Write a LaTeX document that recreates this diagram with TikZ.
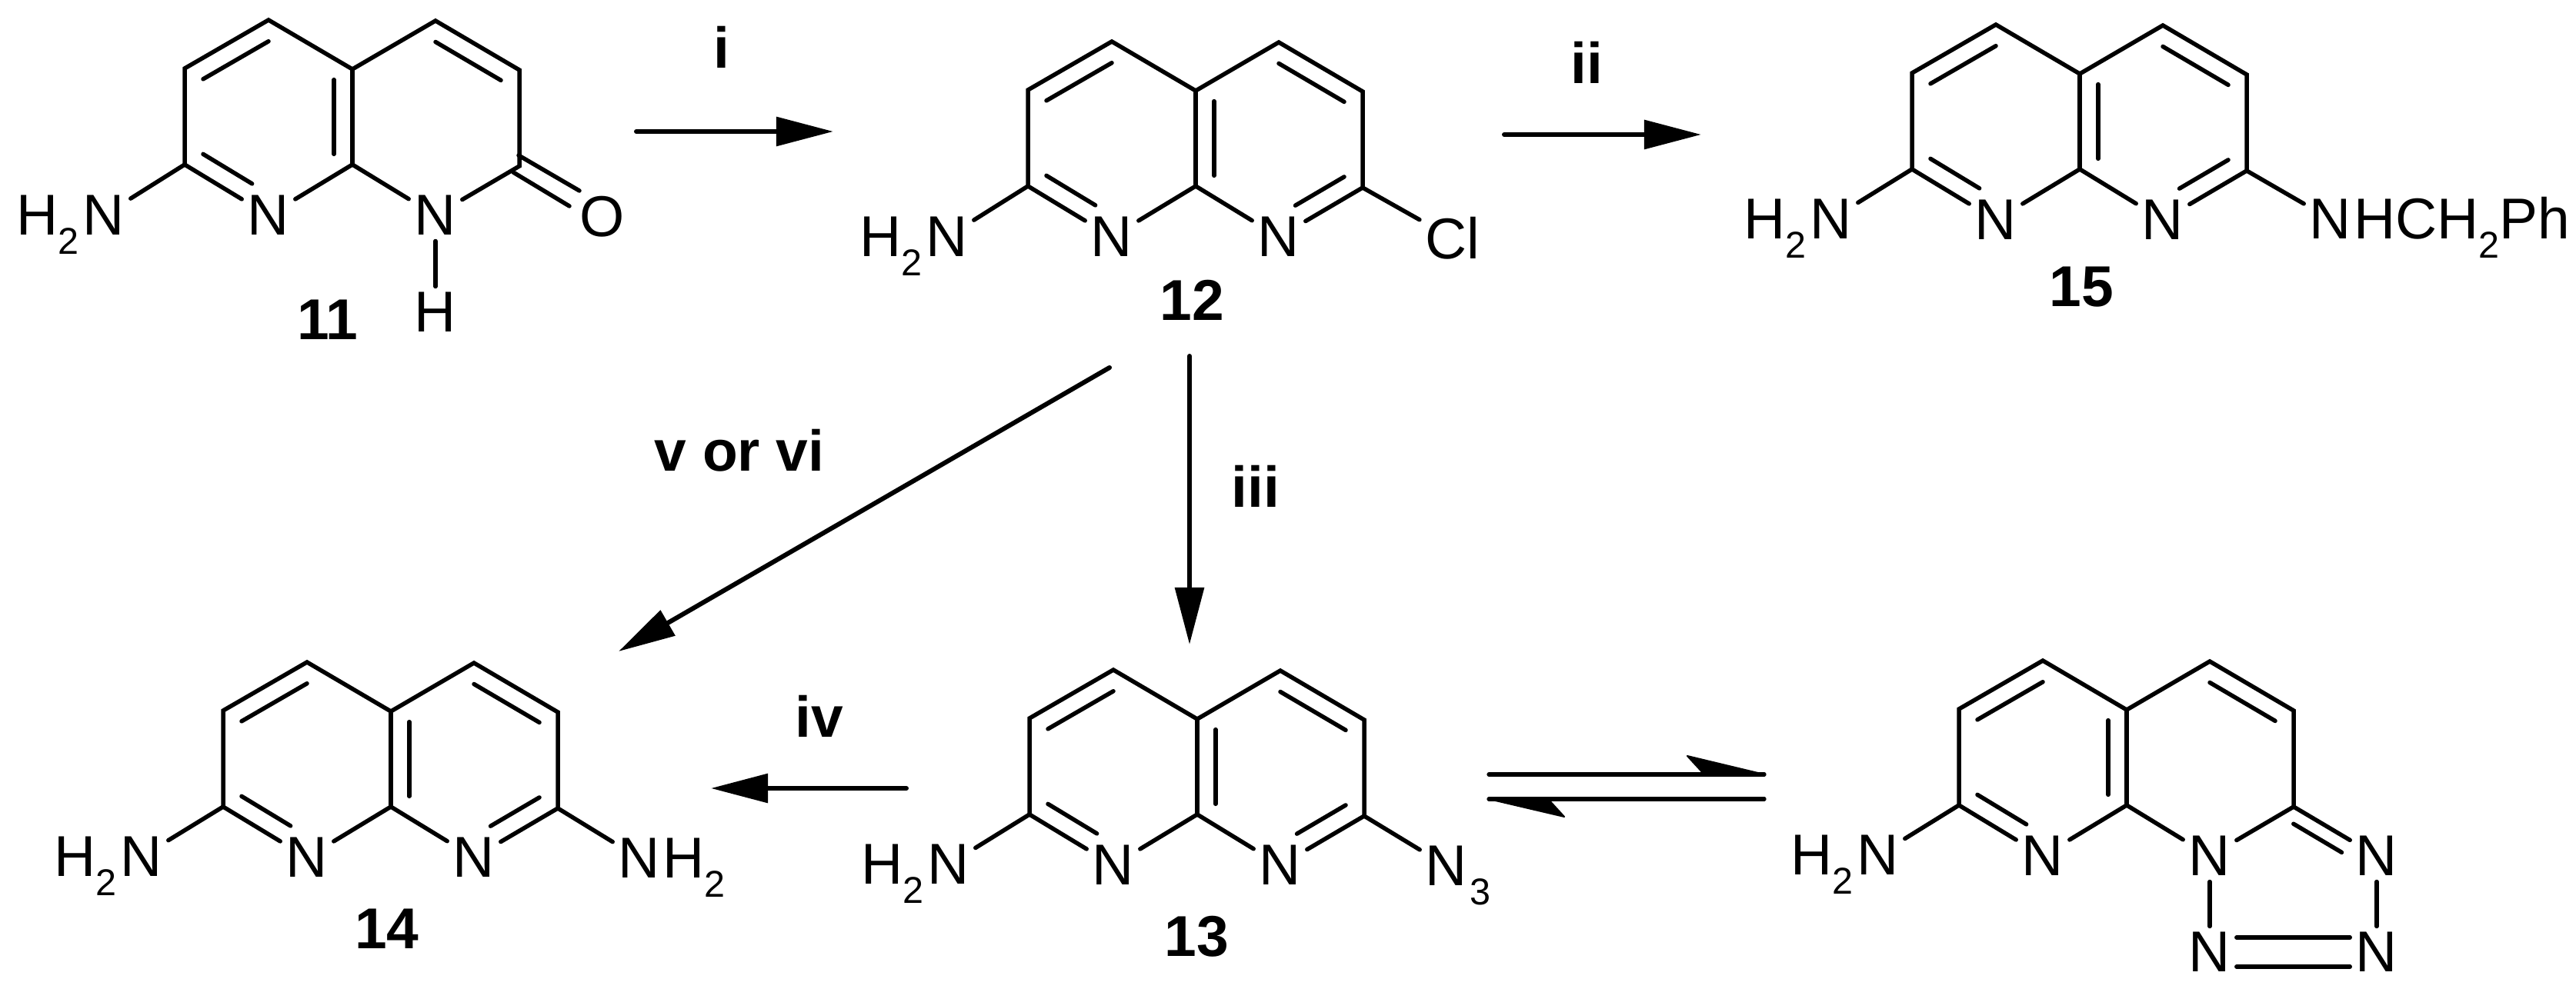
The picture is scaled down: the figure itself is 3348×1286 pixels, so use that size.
\documentclass[tikz,border=0pt]{standalone}
\usepackage{fontspec}
\setmainfont{Liberation Sans}
\usetikzlibrary{calc,arrows.meta}
\newcommand{\subd}[1]{\raisebox{-7pt}{\fontsize{13.8}{14}\selectfont #1}}
\tikzset{
	atom/.style={inner sep=0.05cm},
	leftpart/.style={inner sep=0,anchor=base east,xshift=0.05cm},
	rightpart/.style={inner sep=0,anchor=base west,xshift=-0.07cm},
	lab/.style={inner sep=0,anchor=base,font=\fontsize{21.3}{24}\selectfont\bfseries},
	rxn/.style={line width=0.06cm,-{Triangle[length=0.74cm,width=0.37cm]}}
}
% the two fused rings, #2,#3 = upper end of the shared bond
\newcommand{\ringcore}[3]{
	\coordinate (#1a) at (#2-218,#3-1);
	\coordinate (#1b) at (#2-109,#3-64);
	\coordinate (#1c) at (#2,#3);
	\coordinate (#1d) at (#2+108,#3-63);
	\coordinate (#1e) at (#2+217,#3+1);
	\coordinate (#1f) at (#2+217,#3+126);
	\coordinate (#1g) at (#2,#3+124);
	\coordinate (#1h) at (#2-218,#3+124);
	\coordinate (#1P) at (#2-109,#3+62);
	\coordinate (#1Q) at (#2+108,#3+62);
	\node[atom] (#1N) at (#2-109,#3+190) {N};
	\node[atom] (#1M) at (#2+108,#3+190) {N};
	\draw (#1M)--(#1g)--(#1N) (#1N)--(#1h)--(#1a)--(#1b)--(#1c)--(#1d)--(#1e)--(#1f)--(#1M);
	\draw (#1c)--(#1g);
	\draw ($(#1P)!0.78!(#1a)$)--($(#1P)!0.78!(#1b)$);
	\draw[shorten >=0.25cm] ($(#1P)!0.78!(#1h)$)--($(#1P)!0.78!(#1N)$);
	\draw ($(#1Q)!0.78!(#1d)$)--($(#1Q)!0.78!(#1e)$);
}
% shared double bond and C=N on the right ring
\newcommand{\rightdouble}[1]{
	\draw ($(#1Q)!0.78!(#1c)$)--($(#1Q)!0.78!(#1g)$);
	\draw[shorten >=0.25cm] ($(#1Q)!0.78!(#1f)$)--($(#1Q)!0.78!(#1M)$);
}
% the NH2 on the left of every molecule
\newcommand{\aminoleft}[3]{
	\node[atom] (#1amine) at (#2,#3) {N};
	\node[leftpart] (#1amineH) at (#1amine.base west) {H\subd{2}};
	\draw (#1h)--(#1amine);
}
\begin{document}
\begin{tikzpicture}[x=0.01cm, y=-0.01cm, line width=0.055cm, line cap=round, font=\fontsize{21.3}{24}\selectfont]
	\useasboundingbox (0,0) rectangle (3348,1286);
	% 11
	\ringcore{m11}{458}{90}
	\draw ($(m11P)!0.78!(m11c)$)--($(m11P)!0.78!(m11g)$);
	\aminoleft{m11}{135}{280}
	\node[atom] (m11H) at (566,406) {H};
	\node[atom] (m11O) at (783,282) {O};
	\coordinate (m11o1) at (674,202);
	\coordinate (m11o2) at (753,248);
	\coordinate (m11o3) at (667,224);
	\coordinate (m11o4) at (740,268);
	\draw (m11M)--(m11H);
	\draw (m11o1)--(m11o2) (m11o3)--(m11o4);
	\node[lab] (m11lab) at (426,442) {11};
	% 12
	\ringcore{m12}{1554}{118}
	\rightdouble{m12}
	\aminoleft{m12}{1231}{308}
	\node[atom] (m12Cl) at (1888,310) {Cl};
	\draw (m12f)--(m12Cl);
	\node[lab] (m12lab) at (1549,417) {12};
	% 15
	\ringcore{m15}{2703}{96}
	\rightdouble{m15}
	\aminoleft{m15}{2380}{285}
	\node[atom] (m15N) at (3029,285) {N};
	\node[rightpart] (m15tail) at (m15N.base east) {HCH\subd{2}Ph};
	\draw (m15f)--(m15N);
	\node[lab] (m15lab) at (2705,399) {15};
	% 14
	\ringcore{m14}{508}{925}
	\rightdouble{m14}
	\aminoleft{m14}{184}{1114}
	\node[atom] (m14N) at (831,1116) {N};
	\node[rightpart] (m14tail) at (m14N.base east) {H\subd{2}};
	\draw (m14f)--(m14N);
	\node[lab] (m14lab) at (503,1233) {14};
	% 13
	\ringcore{m13}{1556}{935}
	\rightdouble{m13}
	\aminoleft{m13}{1233}{1124}
	\node[atom] (m13N) at (1880,1126) {N};
	\node[rightpart] (m13tail) at (m13N.base east) {\subd{3}};
	\draw (m13f)--(m13N);
	\node[lab] (m13lab) at (1555,1243) {13};
	% tetrazole form
	\ringcore{tz}{2764}{923}
	\draw ($(tzP)!0.78!(tzc)$)--($(tzP)!0.78!(tzg)$);
	\aminoleft{tz}{2441}{1112}
	\node[atom] (tzA) at (3089,1113) {N};
	\node[atom] (tzB) at (3089,1238) {N};
	\node[atom] (tzC) at (2872,1238) {N};
	\coordinate (tzR) at (2980,1150);
	\draw (tzf)--(tzA);
	\draw[shorten >=0.25cm] ($(tzR)!0.78!(tzf)$)--($(tzR)!0.78!(tzA)$);
	\draw (tzA)--(tzB) (tzM)--(tzC);
	\draw ([yshift=0.19cm]tzC.east)--([yshift=0.19cm]tzB.west);
	\draw ([yshift=-0.19cm]tzC.east)--([yshift=-0.19cm]tzB.west);
	% arrows
	\coordinate (r1a) at (827,171);
	\coordinate (r1b) at (1083,171);
	\coordinate (r2a) at (1955,175);
	\coordinate (r2b) at (2211,175);
	\coordinate (r3a) at (1546,463);
	\coordinate (r3b) at (1546,838);
	\coordinate (r4a) at (1178,1025);
	\coordinate (r4b) at (924,1025);
	\coordinate (r5a) at (1442,478);
	\coordinate (r5b) at (804,847);
	\draw[rxn] (r1a)--(r1b);
	\draw[rxn] (r2a)--(r2b);
	\draw[rxn] (r3a)--(r3b);
	\draw[rxn] (r4a)--(r4b);
	\draw[rxn] (r5a)--(r5b);
	\node[lab] (r1lab) at (938,89) {i};
	\node[lab] (r2lab) at (2062,109) {ii};
	\node[lab] (r3lab) at (1632,660) {iii};
	\node[lab] (r4lab) at (1065,959) {iv};
	\node[lab] (r5lab) at (961,613) {v or vi};
	% equilibrium
	\coordinate (e1a) at (1935,1007);
	\coordinate (e1b) at (2293,1007);
	\coordinate (e1c) at (2193,983);
	\coordinate (e1d) at (2215,1007);
	\coordinate (e2a) at (2293,1039);
	\coordinate (e2b) at (1935,1039);
	\coordinate (e2c) at (2033,1062);
	\coordinate (e2d) at (2012,1039);
	\draw[line width=0.053cm] (e1a)--(e1b) (e2a)--(e2b);
	\filldraw[line width=0.02cm, line join=round] (e1b)--(e1c)--(e1d)--cycle;
	\filldraw[line width=0.02cm, line join=round] (e2b)--(e2c)--(e2d)--cycle;
\end{tikzpicture}
\end{document}
